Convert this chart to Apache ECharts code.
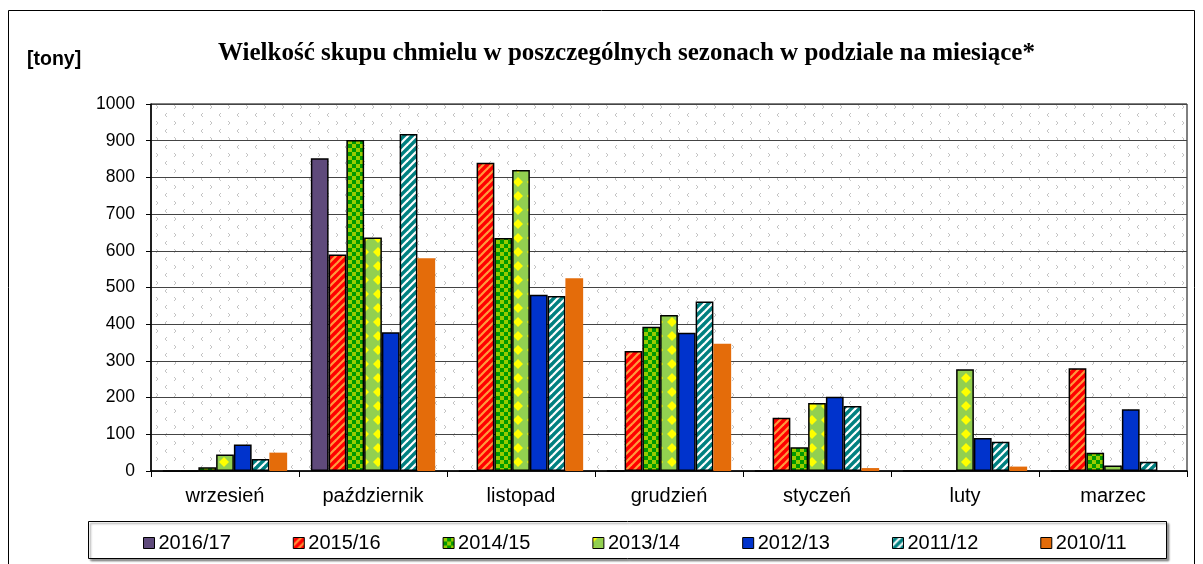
<!DOCTYPE html>
<html>
<head>
<meta charset="utf-8">
<script src="https://cdn.jsdelivr.net/npm/echarts@6/dist/echarts.min.js"></script>
<style>
  html, body { margin: 0; padding: 0; background: #fff; }
  #charts { width: 1203px; height: 564px; }
</style>
</head>
<body>
<div id="charts"></div>
<script>
// miesiące
const months = ['wrzesień', 'październik', 'listopad', 'grudzień', 'styczeń', 'luty', 'marzec']
const seasons = ['2016/17', '2015/16', '2014/15', '2013/14', '2012/13', '2011/12', '2010/11']

// skup w tonach
const s201617 = [0, 852, 0, 0, 0, 0, 0]
const s201516 = [0, 590, 840, 327, 145, 0, 280]
const s201415 = [10, 902, 635, 393, 65, 0, 50]
const s201314 = [45, 636, 820, 425, 185, 277, 15]
const s201213 = [72, 378, 480, 377, 202, 90, 168]
const s201112 = [33, 918, 477, 462, 177, 80, 25]
const s201011 = [50, 580, 525, 347, 8, 12, 0]

const yTicks = [0, 100, 200, 300, 400, 500, 600, 700, 800, 900, 1000]

function makeCanvas(w, h, draw) {
    let c = document.createElement('canvas')
    c.width = w
    c.height = h
    draw(c.getContext('2d'), w, h)
    return c
}

// ukośne paski "/"
function stripes(base, line, lw) {
    return makeCanvas(8, 8, (ctx, w, h) => {
        ctx.fillStyle = base
        ctx.fillRect(0, 0, w, h)
        ctx.strokeStyle = line
        ctx.lineWidth = lw
        for (let k = -1; k <= 1; k++) {
            ctx.beginPath()
            ctx.moveTo(k * 8 - 1, h + 1)
            ctx.lineTo(k * 8 + w + 1, -1)
            ctx.stroke()
        }
    })
}

const redPat = stripes('#ff0000', '#ff9a3c', 2.2)
const tealPat = stripes('#008080', '#ffffff', 2.2)

const greenPat = makeCanvas(8, 8, (ctx) => {
    ctx.fillStyle = '#009900'
    ctx.fillRect(0, 0, 8, 8)
    ctx.fillStyle = '#99cc00'
    ctx.fillRect(0, 0, 4, 4)
    ctx.fillRect(4, 4, 4, 4)
})

const yellowPat = makeCanvas(14, 14, (ctx) => {
    ctx.fillStyle = '#ffff00'
    ctx.fillRect(0, 0, 14, 14)
    ctx.fillStyle = '#92d050'
    ctx.beginPath()
    ctx.moveTo(7, -2); ctx.lineTo(16, 7); ctx.lineTo(7, 16); ctx.lineTo(-2, 7)
    ctx.closePath()
    ctx.fill()
})

// tło obszaru wykresu
const bgPat = makeCanvas(18, 16, (ctx) => {
    ctx.fillStyle = '#ffffff'
    ctx.fillRect(0, 0, 18, 16)
    ctx.strokeStyle = '#c4c4c4'
    ctx.lineWidth = 1
    ctx.beginPath()
    ctx.moveTo(5, 1); ctx.lineTo(3, 3); ctx.lineTo(5, 5)
    ctx.moveTo(12, 9); ctx.lineTo(14, 11); ctx.lineTo(12, 13)
    ctx.stroke()
})

const seriesData = [s201617, s201516, s201415, s201314, s201213, s201112, s201011]
const fills = [
    '#5f4a7b',
    { image: redPat, repeat: 'repeat' },
    { image: greenPat, repeat: 'repeat' },
    { image: yellowPat, repeat: 'repeat' },
    '#0033cc',
    { image: tealPat, repeat: 'repeat' },
    '#e46c0a'
]

let myChart = echarts.init(document.getElementById('charts'))

let option = {
    animation: false,
    textStyle: { fontFamily: 'Liberation Sans' },
    title: {
        text: 'Wielkość skupu chmielu w poszczególnych sezonach w podziale na miesiące*',
        left: 218,
        top: 41,
        padding: 0,
        textStyle: {
            fontFamily: 'Liberation Serif',
            fontWeight: 'bold',
            fontSize: 25,
            color: '#000'
        }
    },
    graphic: [
        {
            type: 'rect',
            shape: { x: 8.5, y: 10.5, width: 1186, height: 580 },
            style: { fill: 'none', stroke: '#000', lineWidth: 1 },
            silent: true
        },
        {
            type: 'rect',
            shape: { x: 88.5, y: 521.5, width: 1078, height: 37 },
            style: { fill: '#fff', stroke: '#000', lineWidth: 1, shadowColor: 'rgba(0,0,0,0.4)', shadowOffsetX: 2, shadowOffsetY: 2, shadowBlur: 2 },
            silent: true,
            z: -1
        },
        {
            type: 'text',
            left: 27,
            top: 50,
            style: { text: '[tony]', font: 'bold 19.5px "Liberation Sans"', fill: '#000' }
        }
    ],
    legend: {
        data: seasons,
        left: 143,
        top: 533,
        padding: 0,
        itemWidth: 11,
        itemHeight: 11,
        itemGap: 62,
        icon: 'rect',
        textStyle: { fontSize: 20, color: '#000', padding: [0, 0, 0, -1] },
        itemStyle: { borderColor: '#000', borderWidth: 1 }
    },
    grid: {
        left: 151,
        right: 16,
        top: 104,
        bottom: 93,
        show: true,
        backgroundColor: { image: bgPat, repeat: 'repeat' },
        borderColor: '#000',
        borderWidth: 1
    },
    xAxis: {
        type: 'category',
        data: months,
        axisLine: { lineStyle: { color: '#000', width: 1.5 } },
        axisTick: { show: true, length: 6, lineStyle: { color: '#000' } },
        axisLabel: { fontSize: 20, color: '#000', margin: 15 }
    },
    yAxis: {
        type: 'value',
        min: yTicks[0],
        max: yTicks[yTicks.length - 1],
        interval: 100,
        axisLine: { show: true, lineStyle: { color: '#000', width: 1.5 } },
        axisTick: { show: true, length: 5, lineStyle: { color: '#000' } },
        axisLabel: { fontSize: 17.5, color: '#000', margin: 16, formatter: v => String(v) },
        splitLine: { lineStyle: { color: '#444', width: 1 } }
    },
    series: seasons.map((name, i) => ({
        name: name,
        type: 'bar',
        data: seriesData[i],
        barGap: 0,
        barCategoryGap: '16%',
        itemStyle: {
            color: fills[i],
            borderColor: i === 6 ? 'transparent' : '#000',
            borderWidth: i === 6 ? 0 : 1.5
        }
    }))
}

myChart.setOption(option)
</script>
</body>
</html>
